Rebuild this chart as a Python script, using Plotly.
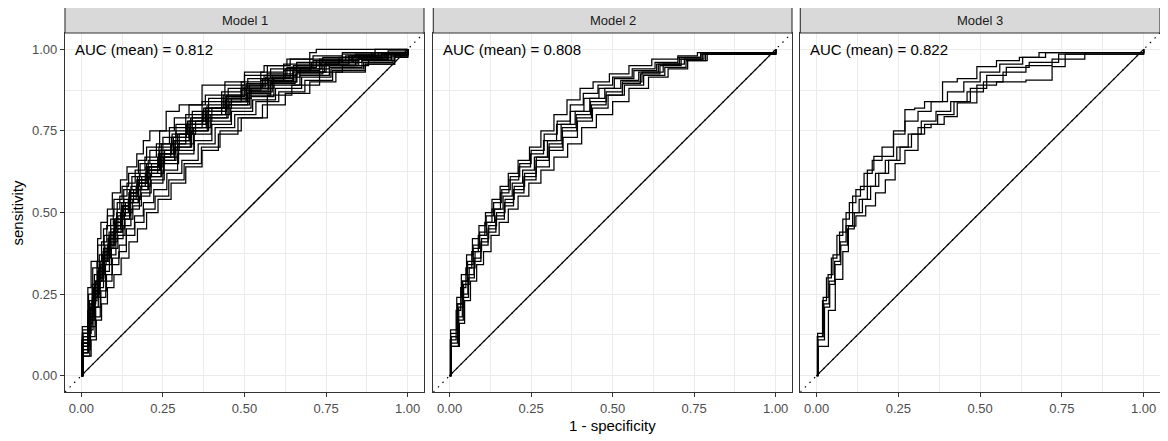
import plotly.graph_objects as go

MODELS = ["Model 1", "Model 2", "Model 3"]
AUC_MEAN = [0.812, 0.808, 0.822]
TICKS = [0, 0.25, 0.5, 0.75, 1.0]
TICK_LABELS = ["0.00", "0.25", "0.50", "0.75", "1.00"]
MINOR_TICKS = [0.125, 0.375, 0.625, 0.875]
AXIS_RANGE = [-0.05, 1.05]
DIAG = [0, 1]

# ---- Model 1: resample ROC curves (1 - specificity, sensitivity) ----
M1_FPR = [
    [0, .003, .02, .03, .05, .06, .08, .095, .12, .14, .17, .19, .21, .26, .30, .37, .44, .50, .56, .63, .70, .72, 1],
    [0, .004, .022, .035, .05, .068, .08, .1, .125, .145, .175, .2, .24, .285, .33, .38, .44, .5, .57, .64, .71, .8, .9, 1],
    [0, .003, .025, .04, .055, .07, .09, .11, .13, .155, .18, .21, .25, .29, .34, .39, .45, .51, .58, .66, .74, .84, .94, 1],
    [0, .002, .02, .033, .048, .062, .078, .098, .118, .14, .165, .195, .23, .27, .32, .37, .43, .49, .55, .62, .7, .8, .9, 1],
    [0, .005, .028, .042, .058, .072, .09, .108, .13, .152, .178, .205, .245, .29, .335, .385, .445, .505, .57, .65, .73, .83, .93, 1],
    [0, .003, .024, .038, .052, .068, .085, .102, .124, .148, .172, .2, .238, .278, .325, .375, .435, .495, .56, .63, .71, .81, .91, 1],
    [0, .004, .026, .04, .056, .07, .088, .106, .128, .15, .176, .208, .25, .295, .34, .39, .45, .515, .585, .66, .75, .85, .95, 1],
    [0, .003, .023, .037, .051, .066, .082, .1, .122, .146, .17, .198, .236, .276, .322, .372, .43, .49, .555, .625, .705, .8, .9, 1],
    [0, .005, .03, .044, .06, .076, .094, .112, .135, .16, .185, .215, .255, .3, .35, .4, .46, .52, .59, .67, .76, .86, .95, 1],
    [0, .002, .02, .034, .05, .064, .08, .1, .12, .144, .168, .196, .234, .274, .32, .37, .43, .49, .55, .62, .7, .79, .89, 1],
    [0, .004, .027, .04, .055, .07, .087, .105, .126, .15, .174, .204, .244, .288, .335, .385, .445, .51, .575, .65, .73, .82, .92, 1],
    [0, .003, .025, .039, .054, .069, .086, .104, .126, .15, .176, .206, .246, .29, .338, .39, .45, .515, .58, .655, .74, .84, .94, 1],
    [0, .002, .02, .033, .048, .064, .082, .1, .122, .148, .174, .204, .244, .286, .334, .386, .446, .51, .58, .66, .75, .85, .95, 1],
    [0, .004, .027, .042, .058, .074, .092, .112, .134, .158, .184, .214, .254, .298, .346, .398, .458, .52, .59, .67, .76, .86, .95, 1],
    [0, .003, .022, .036, .052, .068, .086, .106, .128, .152, .178, .21, .25, .295, .345, .4, .46, .525, .595, .675, .765, .865, .955, 1],
    [0, .005, .028, .044, .06, .077, .095, .116, .138, .163, .19, .222, .262, .308, .358, .41, .47, .535, .605, .685, .77, .87, .96, 1],
    [0, .004, .026, .042, .058, .075, .094, .115, .138, .164, .192, .226, .268, .315, .368, .425, .49, .555, .625, .7, .78, .87, .96, 1],
    [0, .005, .03, .046, .062, .08, .1, .122, .146, .172, .2, .235, .275, .32, .37, .42, .48, .57, .645, .73, .8, .88, .96, 1],
    [0, .003, .024, .038, .053, .068, .085, .104, .125, .148, .173, .202, .24, .282, .33, .38, .44, .5, .565, .64, .72, .82, .92, 1],
    [0, .004, .025, .04, .056, .072, .09, .11, .132, .156, .182, .212, .252, .296, .344, .395, .455, .515, .585, .66, .745, .845, .94, 1],
    [0, .002, .021, .035, .05, .066, .084, .103, .124, .148, .173, .203, .242, .284, .332, .383, .442, .505, .572, .648, .73, .83, .93, 1],
    [0, .003, .024, .037, .052, .067, .083, .102, .123, .147, .172, .201, .24, .282, .33, .382, .442, .506, .574, .65, .735, .835, .935, 1],
]
M1_TPR = [
    [0, .15, .27, .35, .42, .47, .51, .56, .60, .64, .68, .72, .75, .81, .83, .89, .90, .93, .95, .97, .99, 1, 1],
    [0, .14, .25, .33, .40, .45, .49, .54, .58, .62, .66, .70, .75, .79, .83, .86, .89, .92, .95, .97, .98, .99, 1, 1],
    [0, .13, .23, .31, .37, .43, .48, .53, .57, .61, .65, .69, .73, .77, .81, .85, .88, .91, .94, .96, .975, .985, .995, 1],
    [0, .11, .2, .28, .35, .41, .46, .51, .55, .59, .63, .67, .71, .76, .8, .84, .87, .9, .93, .955, .97, .985, .99, 1],
    [0, .12, .21, .29, .35, .4, .45, .5, .54, .58, .62, .66, .71, .75, .79, .83, .86, .895, .925, .95, .97, .98, .99, 1],
    [0, .1, .19, .27, .33, .39, .44, .48, .53, .57, .61, .65, .7, .74, .78, .82, .86, .89, .92, .945, .965, .98, .99, 1],
    [0, .13, .22, .28, .34, .38, .43, .48, .52, .57, .6, .64, .69, .74, .79, .82, .85, .89, .92, .95, .965, .98, .99, 1],
    [0, .1, .18, .25, .31, .37, .42, .47, .51, .56, .6, .64, .68, .73, .77, .81, .85, .88, .91, .94, .96, .975, .99, 1],
    [0, .13, .22, .29, .34, .39, .44, .49, .53, .57, .61, .65, .69, .74, .78, .82, .85, .88, .915, .94, .96, .975, .985, 1],
    [0, .08, .16, .24, .3, .35, .4, .45, .5, .54, .58, .62, .67, .71, .76, .8, .84, .875, .905, .935, .955, .975, .99, 1],
    [0, .1, .19, .26, .32, .37, .42, .46, .51, .55, .59, .63, .68, .72, .77, .81, .84, .87, .9, .93, .955, .97, .985, 1],
    [0, .09, .17, .24, .3, .35, .4, .44, .49, .53, .57, .61, .66, .7, .75, .79, .83, .86, .895, .925, .95, .97, .985, 1],
    [0, .07, .15, .23, .29, .35, .39, .44, .48, .53, .57, .61, .66, .7, .75, .79, .83, .865, .9, .93, .95, .97, .985, 1],
    [0, .09, .17, .24, .29, .34, .39, .43, .48, .52, .56, .6, .65, .69, .74, .78, .82, .855, .89, .92, .945, .965, .98, 1],
    [0, .07, .14, .21, .27, .32, .37, .42, .46, .51, .55, .59, .63, .68, .72, .77, .81, .845, .88, .915, .94, .96, .98, 1],
    [0, .08, .15, .21, .26, .31, .36, .4, .45, .49, .53, .57, .62, .66, .71, .76, .8, .84, .87, .905, .935, .955, .975, 1],
    [0, .06, .12, .18, .24, .29, .34, .38, .43, .47, .51, .55, .6, .65, .7, .75, .79, .83, .865, .9, .93, .955, .975, 1],
    [0, .06, .11, .17, .22, .27, .31, .36, .41, .45, .5, .54, .59, .64, .69, .74, .79, .86, .89, .93, .95, .965, .98, 1],
    [0, .11, .2, .27, .33, .38, .43, .47, .52, .56, .6, .64, .69, .73, .78, .82, .855, .885, .915, .945, .965, .98, .99, 1],
    [0, .1, .18, .25, .31, .36, .41, .45, .5, .54, .58, .62, .67, .71, .76, .8, .84, .87, .9, .93, .955, .97, .985, 1],
    [0, .09, .18, .26, .32, .37, .42, .46, .51, .55, .59, .63, .67, .72, .76, .8, .84, .875, .905, .935, .96, .975, .99, 1],
    [0, .12, .2, .26, .32, .38, .42, .47, .52, .56, .59, .63, .68, .72, .77, .81, .845, .88, .91, .94, .96, .975, .99, 1],
]

# ---- Model 2 ----
M2_FPR = [
    [0, .003, .022, .036, .052, .07, .09, .11, .13, .155, .18, .21, .245, .28, .32, .36, .4, .44, .49, .55, .62, .7, .76, 1],
    [0, .004, .025, .04, .055, .072, .092, .112, .135, .16, .186, .215, .25, .29, .33, .37, .41, .455, .5, .56, .63, .7, .77, 1],
    [0, .002, .02, .034, .05, .068, .088, .108, .13, .156, .182, .212, .248, .288, .328, .37, .412, .458, .505, .565, .635, .705, .775, 1],
    [0, .005, .028, .043, .06, .078, .098, .12, .144, .17, .198, .23, .266, .305, .345, .388, .432, .48, .53, .59, .655, .72, .78, 1],
    [0, .003, .024, .039, .056, .075, .096, .118, .142, .168, .196, .228, .265, .305, .346, .39, .435, .48, .53, .585, .645, .71, .77, 1],
    [0, .004, .027, .042, .058, .076, .096, .118, .142, .168, .196, .228, .265, .306, .348, .392, .438, .486, .536, .595, .66, .725, .785, 1],
    [0, .005, .03, .046, .064, .083, .104, .127, .152, .18, .21, .243, .28, .32, .362, .405, .45, .5, .55, .61, .67, .73, .79, 1],
    [0, .003, .024, .038, .054, .072, .092, .114, .138, .164, .192, .224, .26, .3, .342, .385, .43, .476, .525, .58, .64, .705, .77, 1],
]
M2_TPR = [
    [0, .14, .24, .31, .37, .42, .46, .5, .54, .58, .62, .66, .7, .75, .8, .845, .88, .9, .925, .95, .97, .98, .99, 1],
    [0, .12, .22, .29, .35, .4, .44, .49, .53, .57, .61, .65, .69, .74, .78, .83, .865, .89, .915, .94, .96, .975, .99, 1],
    [0, .11, .2, .27, .33, .38, .43, .47, .51, .56, .6, .64, .68, .72, .77, .81, .85, .88, .91, .935, .955, .97, .985, 1],
    [0, .12, .21, .28, .33, .38, .42, .46, .5, .54, .58, .62, .67, .71, .76, .8, .84, .87, .9, .93, .955, .97, .99, 1],
    [0, .1, .18, .25, .31, .36, .41, .45, .49, .53, .57, .61, .66, .7, .75, .79, .83, .86, .895, .925, .95, .97, .985, 1],
    [0, .09, .17, .24, .3, .35, .4, .44, .48, .52, .56, .6, .64, .69, .73, .78, .82, .86, .89, .92, .945, .965, .985, 1],
    [0, .09, .16, .23, .29, .34, .38, .43, .47, .51, .55, .59, .63, .67, .71, .76, .8, .84, .88, .915, .94, .965, .985, 1],
    [0, .13, .22, .29, .34, .39, .43, .47, .51, .55, .59, .63, .67, .72, .77, .81, .85, .88, .905, .93, .955, .975, .99, 1],
]

# ---- Model 3 ----
M3_FPR = [
    [0, .003, .02, .035, .05, .07, .09, .11, .134, .155, .175, .21, .235, .27, .3, .33, .385, .43, .49, .55, .62, .68, 1],
    [0, .002, .018, .03, .045, .062, .08, .1, .12, .145, .17, .2, .235, .27, .31, .35, .4, .45, .5, .56, .63, .7, 1],
    [0, .004, .024, .04, .056, .074, .094, .115, .14, .165, .19, .22, .255, .29, .33, .37, .42, .47, .52, .58, .65, .74, 1],
    [0, .003, .022, .038, .055, .072, .09, .11, .13, .155, .18, .21, .245, .28, .32, .365, .41, .46, .51, .57, .64, .72, .82, 1],
    [0, .005, .036, .057, .08, .097, .12, .15, .18, .21, .24, .27, .31, .35, .39, .43, .49, .55, .64, .72, .76, 1],
]
M3_TPR = [
    [0, .13, .24, .31, .37, .44, .5, .55, .58, .63, .672, .672, .75, .815, .82, .84, .9, .91, .947, .965, .975, .99, 1],
    [0, .12, .23, .3, .36, .43, .48, .53, .57, .62, .66, .7, .74, .78, .81, .84, .87, .9, .93, .955, .975, .99, 1],
    [0, .11, .21, .28, .34, .4, .45, .5, .54, .58, .62, .66, .7, .74, .77, .8, .84, .88, .92, .945, .96, .985, 1],
    [0, .12, .22, .29, .35, .41, .46, .5, .54, .58, .62, .66, .7, .74, .78, .81, .84, .87, .9, .93, .95, .97, .99, 1],
    [0, .09, .2, .295, .38, .458, .49, .52, .56, .6, .65, .69, .76, .77, .794, .836, .89, .9, .906, .947, .985, 1],
]

CURVES = [(M1_FPR, M1_TPR), (M2_FPR, M2_TPR), (M3_FPR, M3_TPR)]

# ---- layout geometry (page pixels; the page body adds an 8px offset) ----
OFF = 8
W, H = 1168 - OFF, 441 - OFF
ML, MR = 65 - OFF, 8
MT = 33 - OFF
MB = H - (392 - OFF)
PW = W - ML - MR
PH = H - MT - MB
PANEL_PX = [(65, 424), (433.3, 792), (800.3, 1160)]
DOMAINS = [((a - 65) / PW, (b - 65) / PW) for a, b in PANEL_PX]
STRIP_H = 26 / PH

FONT = "Liberation Sans, Arial, Helvetica, sans-serif"
GRID = "#EBEBEB"
DARK = "#333333"
LW = 1.25

fig = go.Figure()
shapes = []
annotations = []

for i, name in enumerate(MODELS):
    xa = "x" if i == 0 else f"x{i+1}"
    ya = "y" if i == 0 else f"y{i+1}"
    fprs, tprs = CURVES[i]
    assert len(fprs) == len(tprs)
    for fx, ty in zip(fprs, tprs):
        assert len(fx) == len(ty), (name, len(fx), len(ty))
        fig.add_trace(go.Scatter(x=fx, y=ty, mode="lines", line=dict(color="black", width=LW, shape="hv"),
                                 xaxis=xa, yaxis=ya, showlegend=False, hoverinfo="skip"))
    # path jump from (1,1) back to (0,0) between resamples
    fig.add_trace(go.Scatter(x=DIAG, y=DIAG, mode="lines", line=dict(color="black", width=LW),
                             xaxis=xa, yaxis=ya, showlegend=False, hoverinfo="skip"))
    # dotted reference line
    fig.add_trace(go.Scatter(x=AXIS_RANGE, y=AXIS_RANGE, mode="lines",
                             line=dict(color="black", width=1.2, dash="1.5px,5px"),
                             xaxis=xa, yaxis=ya, showlegend=False, hoverinfo="skip"))

    axis_common = dict(range=AXIS_RANGE, tickvals=TICKS, ticktext=TICK_LABELS,
                       showgrid=True, gridcolor=GRID, gridwidth=1.1, zeroline=False,
                       showline=True, mirror=True, linecolor=DARK, linewidth=1.1,
                       ticks="outside", ticklen=4, tickcolor=DARK, tickwidth=1.1,
                       tickfont=dict(family=FONT, size=13, color="#4D4D4D"),
                       minor=dict(tickvals=MINOR_TICKS, showgrid=True, gridcolor=GRID, gridwidth=0.55, ticks=""))
    xkey = "xaxis" if i == 0 else f"xaxis{i+1}"
    ykey = "yaxis" if i == 0 else f"yaxis{i+1}"
    fig.update_layout(**{
        xkey: dict(axis_common, domain=list(DOMAINS[i]), anchor=ya),
        ykey: dict(axis_common, domain=[0, 1], anchor=xa,
                   showticklabels=(i == 0), ticks="outside" if i == 0 else ""),
    })

    # strip
    x0, x1 = DOMAINS[i]
    shapes.append(dict(type="rect", xref="paper", yref="paper", x0=x0, x1=x1, y0=1, y1=1 + STRIP_H,
                       fillcolor="#D9D9D9", line=dict(color=DARK, width=1.1), layer="above"))
    annotations.append(dict(xref="paper", yref="paper", x=(x0 + x1) / 2, y=1 + STRIP_H / 2,
                            text=name, showarrow=False, xanchor="center", yanchor="middle",
                            font=dict(family=FONT, size=13, color="#1A1A1A")))
    # AUC label
    annotations.append(dict(xref=xa, yref=ya, x=-0.027, y=1.0, text=f"AUC (mean) = {AUC_MEAN[i]:.3f}",
                            showarrow=False, xanchor="left", yanchor="middle",
                            font=dict(family=FONT, size=15, color="black")))

# axis titles
annotations.append(dict(xref="paper", yref="paper", x=(612.5 - 65) / PW, y=(392 - 426) / PH,
                        text="1 - specificity", showarrow=False, xanchor="center", yanchor="middle",
                        font=dict(family=FONT, size=15, color="black")))
annotations.append(dict(xref="paper", yref="paper", x=(17 - 65) / PW, y=0.5, textangle=-90,
                        text="sensitivity", showarrow=False, xanchor="center", yanchor="middle",
                        font=dict(family=FONT, size=15, color="black")))

fig.update_layout(width=W, height=H, margin=dict(l=ML, r=MR, t=MT, b=MB),
                  paper_bgcolor="white", plot_bgcolor="white",
                  shapes=shapes, annotations=annotations, showlegend=False)

fig.write_html("out.html")
